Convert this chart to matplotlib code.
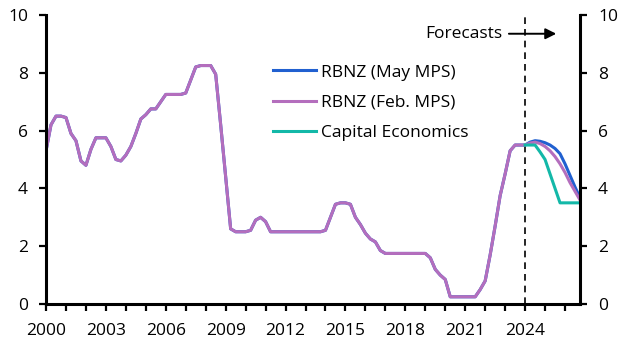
import numpy as np
import matplotlib.pyplot as plt

plt.rcParams['font.family'] = ['Open Sans', 'DejaVu Sans']

# Official cash rate, quarterly, 2000Q1 - 2024Q1 (%)
hist = [5.3, 6.2, 6.5, 6.5,
        6.45, 5.9, 5.65, 4.95,
        4.8, 5.35, 5.75, 5.75,
        5.75, 5.45, 5.0, 4.95,
        5.15, 5.45, 5.9, 6.4,
        6.55, 6.75, 6.75, 7.0,
        7.25, 7.25, 7.25, 7.25,
        7.3, 7.75, 8.2, 8.25,
        8.25, 8.25, 7.95, 6.2,
        4.4, 2.6, 2.5, 2.5,
        2.5, 2.55, 2.9, 3.0,
        2.85, 2.5, 2.5, 2.5,
        2.5, 2.5, 2.5, 2.5,
        2.5, 2.5, 2.5, 2.5,
        2.55, 3.0, 3.45, 3.5,
        3.5, 3.45, 3.0, 2.75,
        2.45, 2.25, 2.15, 1.85,
        1.75, 1.75, 1.75, 1.75,
        1.75, 1.75, 1.75, 1.75,
        1.75, 1.6, 1.2, 1.0,
        0.85, 0.25, 0.25, 0.25,
        0.25, 0.25, 0.25, 0.5,
        0.8, 1.7, 2.7, 3.75,
        4.5, 5.3, 5.5, 5.5,
        5.5]

# forecasts 2024Q1 - 2026Q4
rbnz_may = [5.5, 5.6, 5.65, 5.63, 5.58, 5.5, 5.38, 5.2, 4.85, 4.45, 4.05, 3.68]
rbnz_feb = [5.5, 5.57, 5.6, 5.55, 5.45, 5.3, 5.1, 4.85, 4.55, 4.2, 3.9, 3.6]
ce = [5.5, 5.5, 5.5, 5.26, 5.0, 4.5, 4.0, 3.5, 3.5, 3.5, 3.5, 3.5]

x_fc = 2024 + np.arange(len(ce)) / 4

may = hist + rbnz_may[1:]
feb = hist + rbnz_feb[1:]
x_all = 2000 + np.arange(len(may)) / 4

fig = plt.figure(figsize=(6.32, 3.56), dpi=100)
ax = fig.add_axes([0.0728, 0.146, 0.8449, 0.812])

ax.plot(x_all, may, color='#2160d0', lw=2.2, label='RBNZ (May MPS)')
ax.plot(x_all, feb, color='#b46ebd', lw=2.2, label='RBNZ (Feb. MPS)')
ax.plot(x_fc, ce, color='#13b8a8', lw=2.2, label='Capital Economics')

ax.axvline(2024, color='black', lw=1.2, ls=(0, (4, 3)), zorder=1)
ax.annotate('', xy=(2025.7, 9.35), xytext=(2023.05, 9.35),
            arrowprops=dict(arrowstyle='-|>', color='black', lw=1.4, mutation_scale=16))
ax.text(2022.85, 9.35, 'Forecasts', ha='right', va='center', fontsize=12.5)

ax.set_xlim(2000, 2026.75)
ax.set_ylim(0, 10)
ax.set_xticks(np.arange(2000, 2027, 1), minor=True)
ax.set_xticks(np.arange(2000, 2025, 3))
ax.set_yticks(np.arange(0, 11, 2))

ax.spines['top'].set_visible(False)
for s in ['left', 'right', 'bottom']:
    ax.spines[s].set_linewidth(2.2)

ax.tick_params(axis='both', which='both', width=1.6, length=5, labelsize=12.5)
ax.tick_params(axis='y', pad=8, right=True, labelright=True)
ax.tick_params(axis='x', which='both', pad=9)

ax.legend(loc='upper left', bbox_to_anchor=(0.425, 0.829), frameon=False,
          fontsize=12.5, handlelength=2.5, handletextpad=0.25,
          labelspacing=0.82, borderpad=0, borderaxespad=0)

fig.savefig('out.png', dpi=100)
